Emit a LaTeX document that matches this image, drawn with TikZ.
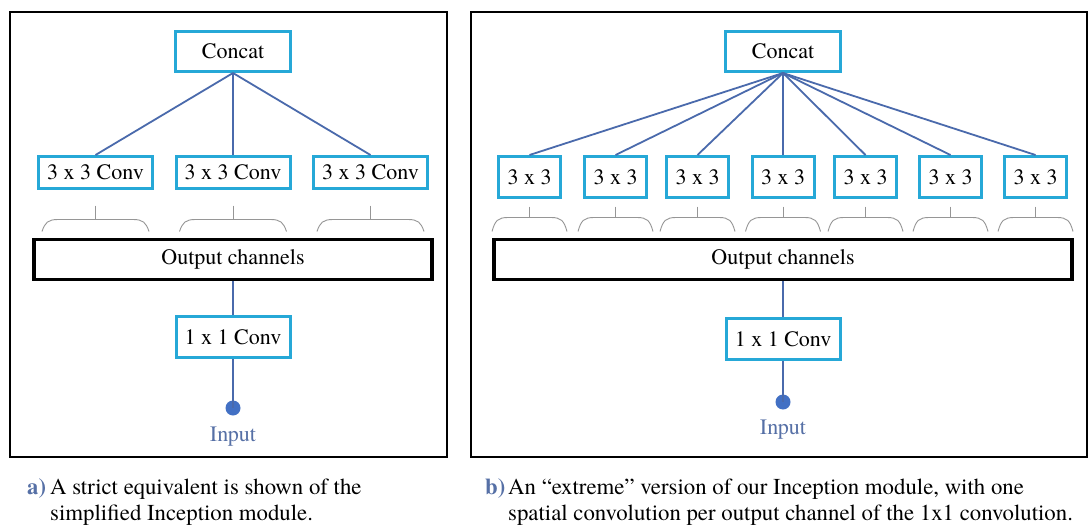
\documentclass[tikz,border=0pt]{standalone}
\usepackage{fontspec}
\setmainfont{texgyretermes}[Extension=.otf, UprightFont=*-regular, BoldFont=*-bold, ItalicFont=*-italic, BoldItalicFont=*-bolditalic]
\usetikzlibrary{calc}

\definecolor{boxcyan}{RGB}{38,168,215}
\definecolor{linkblue}{RGB}{74,106,172}
\definecolor{dotblue}{RGB}{66,112,196}
\definecolor{inputblue}{RGB}{86,112,166}
\definecolor{bracegray}{RGB}{150,150,150}

% stem and curved bracket under a convolution box; offsets measured from its south anchor
\newcommand{\chanbrace}[5]{%
  \draw[brace] ($(#1.south)+(0,#3)$) -- ($(#1.south)+(0,#4)$);
  \draw[brace] ($(#1.south)+(-#2,#5)$)
    .. controls ($(#1.south)+(-#2+3,#4+3)$) and ($(#1.south)+(-#2+6,#4)$) .. ($(#1.south)+(-#2+16,#4)$)
    -- ($(#1.south)+(#2-16,#4)$)
    .. controls ($(#1.south)+(#2-6,#4)$) and ($(#1.south)+(#2-3,#4+3)$) .. ($(#1.south)+(#2,#5)$);
}

\begin{document}
\begin{tikzpicture}[x=1pt,y=-1pt,
  lbl/.style={font=\fontsize{22}{26}\selectfont},
  convbox/.style={lbl, draw=boxcyan, line width=3pt, fill=white, inner sep=0pt},
  chanbox/.style={lbl, draw=black, line width=3.5pt, fill=white, inner sep=0pt},
  frame/.style={draw=black, line width=2.5pt},
  link/.style={draw=linkblue, line width=1.8pt},
  brace/.style={draw=bracegray, line width=0.9pt},
  inputdot/.style={circle, fill=dotblue, inner sep=0pt, minimum size=15pt},
  inputlbl/.style={lbl, text=inputblue, inner sep=0pt},
  capmark/.style={font=\fontsize{22.8}{25}\selectfont\bfseries, text=inputblue, inner sep=0pt, anchor=base west},
  captext/.style={font=\fontsize{22.8}{25}\selectfont, inner sep=0pt, anchor=base west}
]
\useasboundingbox[fill=white] (0,0) rectangle (1090,527);

% ---------- a) simplified Inception module ----------
\draw[frame] (10,12) rectangle (447,457);

\node[convbox, minimum width=115, minimum height=40] (concatA) at (233,51.5) {Concat};
\foreach \i/\cx in {1/95.5, 2/233, 3/370.5}
  \node[convbox, minimum width=114, minimum height=32] (convA\i) at (\cx,172.5) {3 x 3 Conv};
\node[chanbox, minimum width=398, minimum height=40] (outA) at (233,259.5) {Output channels};
\node[convbox, minimum width=114, minimum height=41] (oneA) at (233,337) {1 x 1 Conv};
\node[inputdot] (dotA) at (233,408) {};
\node[inputlbl] (inA) at (233,437) {Input};

\foreach \i in {1,2,3} {
  \draw[link] (concatA.south) -- (convA\i.north);
  \chanbrace{convA\i}{53.5}{15.5}{29.5}{41.5}
}
\draw[link] (outA.south) -- (oneA.north);
\draw[link] (oneA.south) -- (dotA.center);

% ---------- b) extreme Inception module ----------
\draw[frame] (471,12) rectangle (1087,457);

\node[convbox, minimum width=115, minimum height=40] (concatB) at (783,51.5) {Concat};
\foreach \i/\cx in {1/529.5, 2/615.5, 3/697.5, 4/783, 5/865.5, 6/950.5, 7/1035.5}
  \node[convbox, minimum width=62, minimum height=41] (convB\i) at (\cx,177) {3 x 3};
\node[chanbox, minimum width=578, minimum height=40] (outB) at (783,259.5) {Output channels};
\node[convbox, minimum width=114, minimum height=41] (oneB) at (783,339) {1 x 1 Conv};
\node[inputdot] (dotB) at (783,402) {};
\node[inputlbl] (inB) at (783,430) {Input};

\foreach \i in {1,...,7} {
  \draw[link] (concatB.south) -- (convB\i.north);
  \chanbrace{convB\i}{37.5}{7.5}{18.5}{32.5}
}
\draw[link] (outB.south) -- (oneB.north);
\draw[link] (oneB.south) -- (dotB.center);

% ---------- captions ----------
\node[capmark] (capAm) at (27,494) {a)};
\node[captext] (capA1) at (50,494) {A strict equivalent is shown of the};
\node[captext] (capA2) at (50,520) {simplified Inception module.};

\node[capmark] (capBm) at (485,494) {b)};
\node[captext] (capB1) at (508,494) {An “extreme” version of our Inception module, with one};
\node[captext] (capB2) at (508,520) {spatial convolution per output channel of the 1x1 convolution.};
\end{tikzpicture}
\end{document}
